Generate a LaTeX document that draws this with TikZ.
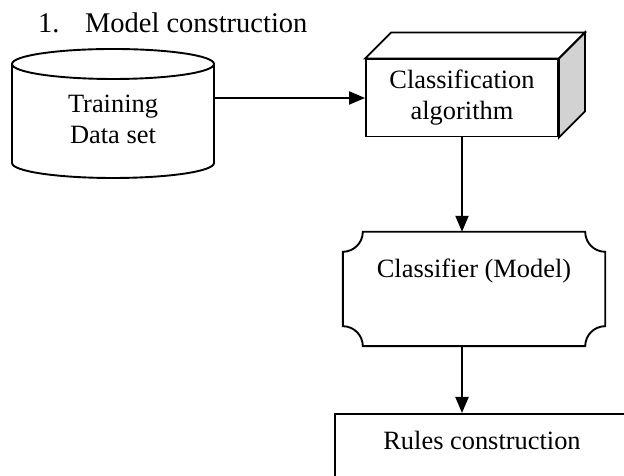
\documentclass[tikz,border=0pt]{standalone}
\usepackage{fontspec}
\setmainfont{Liberation Serif}
\usetikzlibrary{arrows.meta}

\begin{document}
\begin{tikzpicture}[x=1bp, y=1bp,
    line/.style={line width=1.9bp},
    flow/.style={line width=2bp, -{Triangle[length=16bp,width=13bp]}},
    txt/.style={font=\fontsize{26.5}{31}\selectfont, align=center},
    algobox/.style={txt, line, draw, fill=white, minimum width=192bp, minimum height=77bp, inner sep=0pt},
    clfbox/.style={txt, inner sep=0pt, minimum width=262bp, text height=46bp, text depth=68bp},
    rulesbox/.style={txt, line, draw, inner sep=0pt, minimum width=294bp, text height=36bp, text depth=50bp}]
  \useasboundingbox (0,0) rectangle (624,476);
  \clip (0,0) rectangle (624,476);
  % Titulo
  \node[anchor=base west, font=\fontsize{28.6}{34}\selectfont, inner sep=0pt] (title) at (38,443)
    {1.\hspace{25.5bp}Model construction};
  % Cilindro (dados de treino)
  \draw[line] (113,412) ellipse (101bp and 15bp);
  \draw[line] (12,412) -- (12,313) arc (180:360:101bp and 15bp) -- (214,412);
  \node[txt] (data) at (113,357) {Training\\Data set};
  \coordinate (dbout) at (214,378);
  % Caixa 3D (algoritmo)
  \node[algobox] (cls) at (462,378) {Classification\\algorithm};
  \draw[line, fill=white] (cls.north west) -- ++(26,26) -- ([shift={(26,26)}]cls.north east) -- (cls.north east) -- cycle;
  \draw[line, fill=gray!35] (cls.north east) -- ++(26,26) -- ([shift={(26,26)}]cls.south east) -- (cls.south east) -- cycle;
  % Classificador
  \node[clfbox] (clf) at (474,187) {Classifier (Model)};
  \draw[line] ([yshift=-20bp]clf.north west) arc (-90:0:20bp)
    -- ([xshift=-20bp]clf.north east) arc (180:270:20bp)
    -- ([yshift=20bp]clf.south east) arc (90:180:20bp)
    -- ([xshift=20bp]clf.south west) arc (0:90:20bp) -- cycle;
  % Regras
  \node[rulesbox, anchor=north] (rules) at (482,63) {Rules construction};
  % Setas
  \draw[flow] (dbout) -- (cls.west);
  \draw[flow] (cls.south) -- (cls.south |- clf.north);
  \draw[flow] (clf.south -| cls.south) -- (rules.north -| cls.south);
\end{tikzpicture}
\end{document}
